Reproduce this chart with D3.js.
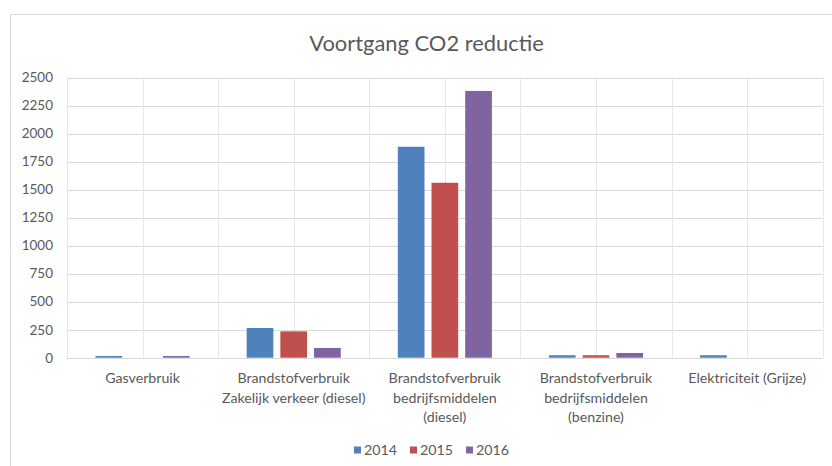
<!DOCTYPE html>
<html>
<head>
<meta charset="utf-8">
<script src="https://cdn.jsdelivr.net/npm/d3@7"></script>
<style>
  body { margin: 0; background: #fff; }
  svg text { font-family: Lato, "Open Sans", sans-serif; fill: #595959; }
</style>
</head>
<body>
<div id="viz"></div>
<script>
const width = 832;
const height = 466;
const margin = {top: 77.5, right: 9.3, bottom: 108.3, left: 67};

// Chart data
const categories = [
  'Gasverbruik',
  'Brandstofverbruik\nZakelijk verkeer (diesel)',
  'Brandstofverbruik\nbedrijfsmiddelen\n(diesel)',
  'Brandstofverbruik\nbedrijfsmiddelen\n(benzine)',
  'Elektriciteit (Grijze)'
];
const years = ['2014', '2015', '2016'];
const values2014 = [15, 265, 1882, 22, 22];
const values2015 = [0, 235, 1561, 22, 0];
const values2016 = [15, 87, 2380, 42, 0];
const yTicks = [0, 250, 500, 750, 1000, 1250, 1500, 1750, 2000, 2250, 2500];
const colors = ['#4f81bd', '#c0504d', '#8064a2'];

const series = [values2014, values2015, values2016];
const rows = categories.map((c, i) => ({
  category: c,
  values: years.map((y, j) => ({ year: y, value: series[j][i] }))
}));

const svg = d3.select('#viz')
  .append('svg')
    .attr('width', width)
    .attr('height', height);

// Chart frame
svg.append('rect')
  .attr('x', 10.5)
  .attr('y', 14.5)
  .attr('width', width)
  .attr('height', height)
  .attr('fill', 'none')
  .attr('stroke', '#d9d9d9');

// Scales
const scaleX = d3.scaleBand()
  .domain(categories)
  .range([margin.left, width - margin.right]);

const scaleYear = d3.scaleBand()
  .domain(years)
  .range([0, scaleX.bandwidth()])
  .paddingInner(0.2077)
  .paddingOuter(0.846);

const scaleY = d3.scaleLinear()
  .domain([0, 2500])
  .range([height - margin.bottom, margin.top]);

const scaleColor = d3.scaleOrdinal()
  .domain(years)
  .range(colors);

// Horizontal gridlines
svg.append('g')
  .selectAll('line')
  .data(yTicks.filter(t => t > 0))
  .join('line')
    .attr('x1', margin.left)
    .attr('x2', width - margin.right)
    .attr('y1', d => Math.round(scaleY(d)) + 0.5)
    .attr('y2', d => Math.round(scaleY(d)) + 0.5)
    .attr('stroke', '#d9d9d9');

// Vertical gridlines at each half category
const halfSteps = d3.range(categories.length * 2 + 1)
  .map(i => margin.left + i * scaleX.step() / 2);
svg.append('g')
  .selectAll('line')
  .data(halfSteps)
  .join('line')
    .attr('x1', d => Math.round(d) + 0.5)
    .attr('x2', d => Math.round(d) + 0.5)
    .attr('y1', margin.top)
    .attr('y2', height - margin.bottom)
    .attr('stroke', '#e6e6e6');

// Bars
svg.append('g')
  .selectAll('g')
  .data(rows)
  .join('g')
    .attr('transform', d => `translate(${scaleX(d.category)},0)`)
  .selectAll('rect')
  .data(d => d.values)
  .join('rect')
    .attr('x', d => scaleYear(d.year))
    .attr('y', d => scaleY(d.value))
    .attr('width', scaleYear.bandwidth())
    .attr('height', d => scaleY(0) - scaleY(d.value))
    .attr('fill', d => scaleColor(d.year));

// X axis line
svg.append('line')
  .attr('x1', margin.left)
  .attr('x2', width - margin.right)
  .attr('y1', Math.round(scaleY(0)) + 0.5)
  .attr('y2', Math.round(scaleY(0)) + 0.5)
  .attr('stroke', '#d9d9d9');

// Y axis labels
const axisLeft = d3.axisLeft(scaleY)
  .tickValues(yTicks)
  .tickFormat(d3.format('d'))
  .tickSize(0)
  .tickPadding(14);
const yAxis = svg.append('g')
  .attr('transform', `translate(${margin.left},0)`)
  .call(axisLeft);
yAxis.select('.domain').remove();
yAxis.selectAll('text')
  .style('font-size', '13.5px')
  .attr('fill', '#595959');

// Category labels
const catLabels = svg.append('g')
  .selectAll('text')
  .data(categories)
  .join('text')
    .attr('text-anchor', 'middle')
    .attr('x', d => scaleX(d) + scaleX.bandwidth() / 2)
    .attr('y', 383)
    .style('font-size', '14.2px');
catLabels.selectAll('tspan')
  .data(d => d.split('\n'))
  .join('tspan')
    .attr('x', function() { return this.parentNode.getAttribute('x'); })
    .attr('dy', (d, i) => i === 0 ? 0 : 19.5)
    .text(d => d);

// Title
svg.append('text')
  .attr('x', 426.5)
  .attr('y', 51)
  .attr('text-anchor', 'middle')
  .style('font-size', '21.9px')
  .text('Voortgang CO2 reductie');

// Legend
const legendX = [354, 410, 466];
const legend = svg.append('g')
  .selectAll('g')
  .data(years)
  .join('g')
    .attr('transform', (d, i) => `translate(${legendX[i]},${450})`);
legend.append('rect')
  .attr('x', 0)
  .attr('y', -3.5)
  .attr('width', 7)
  .attr('height', 7)
  .attr('fill', d => scaleColor(d));
legend.append('text')
  .attr('x', 10)
  .attr('y', 5)
  .style('font-size', '14.2px')
  .text(d => d);
</script>
</body>
</html>
